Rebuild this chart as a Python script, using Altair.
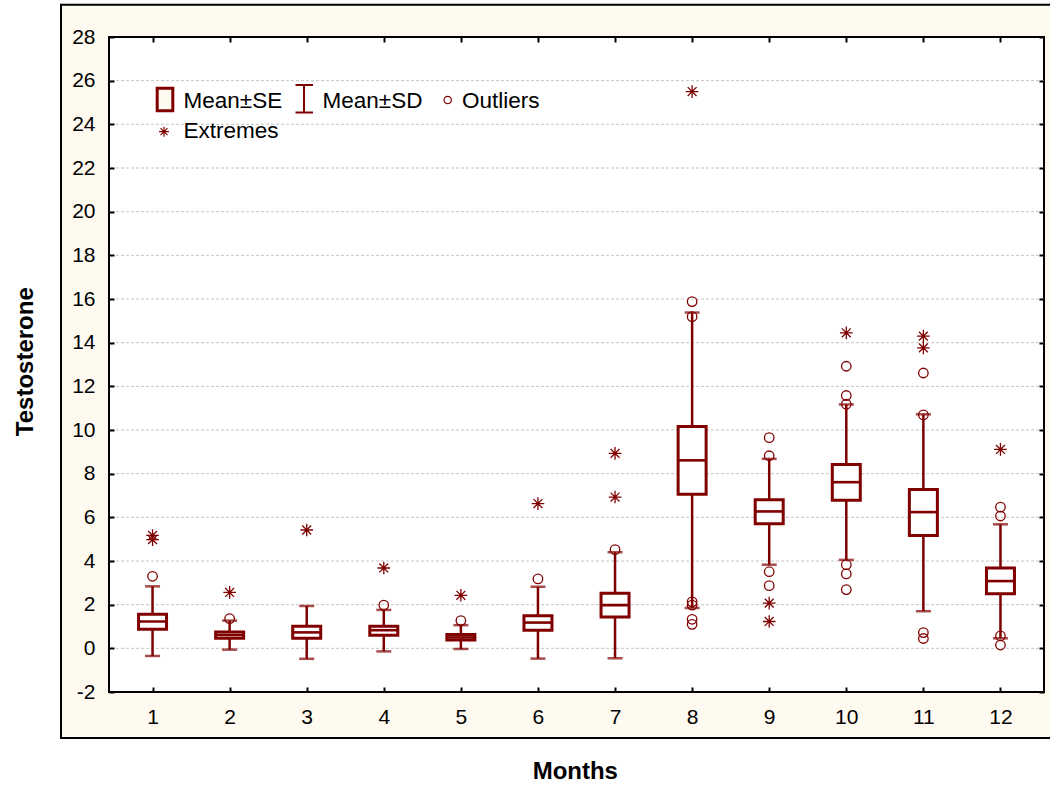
import altair as alt
import pandas as pd

# ---------------- data ----------------
months = [1, 2, 3, 4, 5, 6, 7, 8, 9, 10, 11, 12]
mean_vals = [1.23, 0.61, 0.73, 0.83, 0.50, 1.18, 1.98, 8.61, 6.27, 7.61, 6.24, 3.08]
se_low = [0.87, 0.46, 0.46, 0.60, 0.38, 0.83, 1.44, 7.06, 5.71, 6.78, 5.17, 2.50]
se_high = [1.56, 0.75, 1.01, 1.01, 0.63, 1.49, 2.52, 10.16, 6.80, 8.42, 7.27, 3.68]
sd_low = [-0.35, -0.06, -0.48, -0.14, -0.03, -0.47, -0.45, 1.85, 3.83, 4.05, 1.70, 0.46]
sd_high = [2.84, 1.27, 1.94, 1.76, 1.06, 2.82, 4.40, 15.38, 8.68, 11.17, 10.72, 5.68]

outlier_month = [1, 2, 4, 5, 6, 7,
                 8, 8, 8, 8, 8, 8,
                 9, 9, 9, 9,
                 10, 10, 10, 10, 10, 10,
                 11, 11, 11, 11,
                 12, 12, 12, 12]
outlier_value = [3.30, 1.36, 1.98, 1.27, 3.18, 4.52,
                 15.88, 15.19, 2.13, 1.98, 1.33, 1.10,
                 9.65, 8.82, 3.51, 2.87,
                 12.92, 11.58, 11.18, 3.83, 3.41, 2.69,
                 12.61, 10.69, 0.72, 0.45,
                 6.47, 6.06, 0.57, 0.15]

extreme_month = [1, 1, 2, 3, 4, 5, 6, 7, 7, 8, 9, 9, 10, 11, 11, 12]
extreme_value = [5.17, 4.98, 2.56, 5.42, 3.68, 2.43, 6.63, 8.93, 6.93, 25.50,
                 2.07, 1.23, 14.45, 14.30, 13.76, 9.11]

y_ticks = list(range(-2, 29, 2))
grid_values = list(range(0, 27, 2))
x_label = "Months"
y_label = "Testosterone"
legend_labels = ["Mean±SE", "Mean±SD", "Outliers", "Extremes"]

# ---------------- styling ----------------
W, H = 935, 655
RED = "#800000"
CREAM = "#FFFAF0"
FONT = "Liberation Sans"
ASTERISK = "M-1,0L1,0M0,-1L0,1M-0.7,-0.7L0.7,0.7M-0.7,0.7L0.7,-0.7"

box_df = pd.DataFrame({"month": months, "mean": mean_vals, "se_lo": se_low,
                       "se_hi": se_high, "sd_lo": sd_low, "sd_hi": sd_high})
out_df = pd.DataFrame({"month": outlier_month, "value": outlier_value})
ext_df = pd.DataFrame({"month": extreme_month, "value": extreme_value})
grid_df = pd.DataFrame({"g": grid_values})
one = pd.DataFrame({"k": [0]})

xs = alt.Scale(domain=[0.5, 12.5], nice=False, zero=False)
ys = alt.Scale(domain=[-2, 28], nice=False, zero=False)

common_axis = dict(domain=False, grid=False, title=None, zindex=1,
                   tickColor="black", tickWidth=2, tickSize=5, offset=-5,
                   labelFont=FONT, labelFontSize=21, labelColor="black")

x_bottom = alt.Axis(orient="bottom", values=months, labelExpr="'' + datum.value",
                    labelPadding=14, labelOverlap=False, labelFlush=False, **common_axis)
y_left = alt.Axis(orient="left", values=y_ticks, labelExpr="'' + datum.value",
                  labelPadding=14, labelOverlap=False, **common_axis)
x_top = alt.Axis(orient="top", values=months, labels=False, **common_axis)
y_right = alt.Axis(orient="right", values=y_ticks, labels=False, **common_axis)

# frame & plot background
frame = alt.Chart(one).mark_rect(fill=CREAM, stroke="black", strokeWidth=2).encode(
    x=alt.value(-48), x2=alt.value(960), y=alt.value(-32.3), y2=alt.value(701))
plot_bg = alt.Chart(one).mark_rect(fill="white", stroke="black", strokeWidth=2).encode(
    x=alt.value(0), x2=alt.value(W), y=alt.value(0), y2=alt.value(H))

grid = alt.Chart(grid_df).mark_rule(color="#c4c4c4", strokeWidth=1, strokeDash=[3, 2]).encode(
    y=alt.Y("g:Q", scale=ys, axis=None))

whisk = alt.Chart(box_df).mark_rule(color=RED, strokeWidth=2.5).encode(
    x=alt.X("month:Q", scale=xs, axis=x_bottom),
    y=alt.Y("sd_lo:Q", scale=ys, axis=y_left),
    y2="sd_hi:Q")
cap_lo = alt.Chart(box_df).mark_tick(orient="horizontal", size=15, thickness=2.5, color=RED).encode(
    x=alt.X("month:Q", scale=xs, axis=None), y=alt.Y("sd_lo:Q", scale=ys, axis=None))
cap_hi = alt.Chart(box_df).mark_tick(orient="horizontal", size=15, thickness=2.5, color=RED).encode(
    x=alt.X("month:Q", scale=xs, axis=None), y=alt.Y("sd_hi:Q", scale=ys, axis=None))
boxes = alt.Chart(box_df).mark_bar(size=28, fill="white", stroke=RED, strokeWidth=3).encode(
    x=alt.X("month:Q", scale=xs, axis=None),
    y=alt.Y("se_lo:Q", scale=ys, axis=None), y2="se_hi:Q")
means = alt.Chart(box_df).mark_tick(orient="horizontal", size=27, thickness=2.6, color=RED,
                                    opacity=1).encode(
    x=alt.X("month:Q", scale=xs, axis=None), y=alt.Y("mean:Q", scale=ys, axis=None))

outs = alt.Chart(out_df).mark_point(shape="circle", filled=False, size=90, color=RED,
                                    strokeWidth=1.3, opacity=1).encode(
    x=alt.X("month:Q", scale=xs, axis=None), y=alt.Y("value:Q", scale=ys, axis=None))
exts = alt.Chart(ext_df).mark_point(shape=ASTERISK, filled=False, size=160, color=RED,
                                    strokeWidth=1.3, opacity=1).encode(
    x=alt.X("month:Q", scale=xs, axis=None), y=alt.Y("value:Q", scale=ys, axis=None))

# extra axes (top / right) with inward ticks
extra_axes = alt.Chart(box_df).mark_point(opacity=0).encode(
    x=alt.X("month:Q", scale=xs, axis=x_top),
    y=alt.Y("mean:Q", scale=ys, axis=y_right))

# legend
leg_box = alt.Chart(one).mark_rect(fill=CREAM, stroke=RED, strokeWidth=3).encode(
    x=alt.value(48.2), x2=alt.value(63.8), y=alt.value(51.2), y2=alt.value(73.8))
leg_sd = alt.Chart(one).mark_rule(color=RED, strokeWidth=2).encode(
    x=alt.value(195), y=alt.value(48), y2=alt.value(75.5))
leg_sd_top = alt.Chart(one).mark_rule(color=RED, strokeWidth=2).encode(
    x=alt.value(186.5), x2=alt.value(204), y=alt.value(48))
leg_sd_bot = alt.Chart(one).mark_rule(color=RED, strokeWidth=2).encode(
    x=alt.value(186.5), x2=alt.value(204), y=alt.value(75.5))
leg_out = alt.Chart(one).mark_point(shape="circle", filled=False, size=54, color=RED,
                                    strokeWidth=1.2, opacity=1).encode(
    x=alt.value(338.7), y=alt.value(63))
leg_ext = alt.Chart(one).mark_point(shape=ASTERISK, filled=False, size=100, color=RED,
                                    strokeWidth=1.2, opacity=1).encode(
    x=alt.value(55), y=alt.value(94.7))

def leg_text(label, x, y):
    return alt.Chart(one).mark_text(text=label, font=FONT, fontSize=22.5, color="black",
                                    align="left", baseline="alphabetic").encode(
        x=alt.value(x), y=alt.value(y))

leg_texts = [leg_text(legend_labels[0], 74.5, 71.3),
             leg_text(legend_labels[1], 213.5, 71.3),
             leg_text(legend_labels[2], 353, 71.3),
             leg_text(legend_labels[3], 74.5, 101.3)]

# axis titles
x_title = alt.Chart(one).mark_text(text=x_label, font=FONT, fontSize=24, fontWeight="bold",
                                   color="black", align="center", baseline="alphabetic").encode(
    x=alt.value(466.3), y=alt.value(742.3))
y_title = alt.Chart(one).mark_text(text=y_label, font=FONT, fontSize=24, fontWeight="bold",
                                   color="black", align="center", baseline="alphabetic",
                                   angle=270).encode(
    x=alt.value(-76.3), y=alt.value(324.7))

chart = alt.layer(
    frame, plot_bg, grid, whisk, cap_lo, cap_hi, boxes, means, outs, exts, extra_axes,
    leg_box, leg_sd, leg_sd_top, leg_sd_bot, leg_out, leg_ext, *leg_texts,
    x_title, y_title
).resolve_axis(x="independent", y="independent").properties(
    width=W, height=H,
    padding={"left": 109, "top": 37, "right": 6, "bottom": 97},
    autosize=alt.AutoSizeParams(type="none"),
    background="white",
).configure_view(stroke=None)

chart.save("out.html", embed_options={"renderer": "svg", "actions": False})
